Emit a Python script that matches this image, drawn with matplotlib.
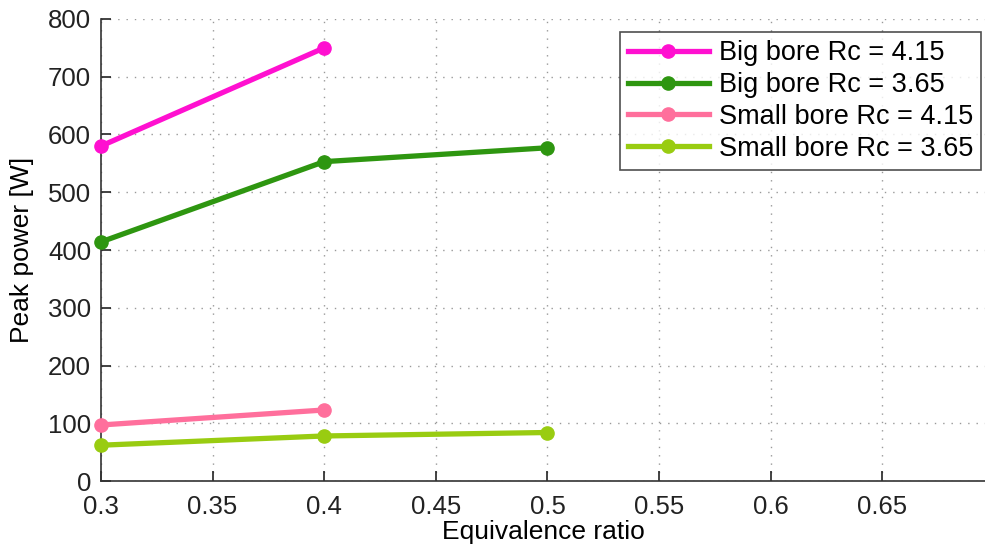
import matplotlib
matplotlib.use("Agg")
import matplotlib.pyplot as plt

x_big_415 = [0.3, 0.4]
y_big_415 = [580, 750]
x_big_365 = [0.3, 0.4, 0.5]
y_big_365 = [414, 553, 577]
x_small_415 = [0.3, 0.4]
y_small_415 = [97, 123]
x_small_365 = [0.3, 0.4, 0.5]
y_small_365 = [62, 78, 84]

labels = ["Big bore Rc = 4.15", "Big bore Rc = 3.65", "Small bore Rc = 4.15", "Small bore Rc = 3.65"]
colors = ["#ff10d0", "#2e9610", "#ff6f9c", "#99cc11"]

xticks = [0.3, 0.35, 0.4, 0.45, 0.5, 0.55, 0.6, 0.65]
xticklabels = ["0.3", "0.35", "0.4", "0.45", "0.5", "0.55", "0.6", "0.65"]
yticks = [0, 100, 200, 300, 400, 500, 600, 700, 800]

plt.rcParams['font.family'] = ['Liberation Sans', 'DejaVu Sans']

fig = plt.figure(figsize=(9.85, 5.52), dpi=100)
ax = fig.add_axes([0.1025, 0.1286, 0.8975, 0.837])

series = [(x_big_415, y_big_415), (x_big_365, y_big_365), (x_small_415, y_small_415), (x_small_365, y_small_365)]
for (xs, ys), lab, c in zip(series, labels, colors):
    ax.plot(xs, ys, '-o', color=c, lw=3.8, ms=9.5, label=lab, clip_on=False, zorder=3)

ax.set_xlim(0.3, 0.696)
ax.set_ylim(0, 800)
ax.set_xticks(xticks)
ax.set_xticklabels(xticklabels)
ax.set_yticks(yticks)
ax.tick_params(direction='in', length=7, width=1.2, labelsize=18.5, colors='#222222')
ax.tick_params(axis='x', pad=10)
ax.tick_params(axis='y', pad=7)
ax.spines['top'].set_visible(False)
ax.spines['right'].set_visible(False)
for s in ['left', 'bottom']:
    ax.spines[s].set_linewidth(1.2)
    ax.spines[s].set_color('#333333')
ax.grid(True, linestyle=(0, (1, 5)), color='#999999', lw=1.0)
ax.set_axisbelow(True)

ax.set_xlabel("Equivalence ratio", fontsize=19, labelpad=1)
ax.set_ylabel("Peak power [W]", fontsize=19, labelpad=10)

leg = ax.legend(loc='upper right', bbox_to_anchor=(0.9955, 0.972), fontsize=19.5, frameon=True, fancybox=False,
                edgecolor='#222222', handlelength=3.0, borderpad=0.3, labelspacing=0.22, handletextpad=0.35,
                borderaxespad=0)
leg.get_frame().set_linewidth(1.2)

fig.savefig("out.png", dpi=100)
